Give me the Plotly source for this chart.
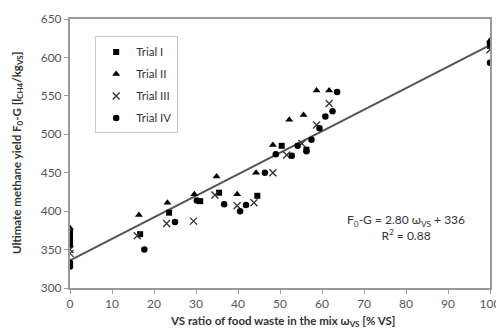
import plotly.graph_objects as go

# Trial I (squares)
t1_x = [0, 0, 0, 0, 16.7, 23.6, 31, 35.5, 44.6, 50.4, 56.3, 100]
t1_y = [372, 365, 360, 356, 370, 398, 413, 424, 420, 485, 480, 615]
# Trial II (triangles)
t2_x = [0, 16.4, 23.2, 29.6, 34.9, 39.8, 44.3, 48.3, 52.2, 55.6, 58.7, 61.7, 100]
t2_y = [378, 395, 411, 422, 445, 422, 450, 486, 519, 525, 557, 557, 622]
# Trial III (crosses)
t3_x = [0, 0, 16, 23, 29.4, 34.5, 39.8, 43.8, 48.3, 51.6, 55.2, 58.7, 61.7, 100]
t3_y = [350, 345, 368, 384, 387, 421, 407, 411, 450, 473, 488, 512, 540, 610]
# Trial IV (circles)
t4_x = [0, 0, 17.7, 25, 30.2, 36.7, 40.5, 41.9, 46.4, 49, 52.8, 54.2, 56.3, 57.5, 59.4, 60.8, 62.5, 63.6, 100, 100]
t4_y = [333, 328, 350, 386, 414, 409, 400, 408, 450, 474, 472, 485, 478, 493, 508, 523, 530, 555, 593, 618]

slope, intercept = 2.80, 336
fit_x = [0, 100]
fit_y = [intercept + slope * v for v in fit_x]

font = "Lato, 'Open Sans', sans-serif"
fig = go.Figure()
fig.add_trace(go.Scatter(x=fit_x, y=fit_y, mode="lines", line=dict(color="#555555", width=2),
                         showlegend=False, hoverinfo="skip"))
fig.add_trace(go.Scatter(x=t1_x, y=t1_y, mode="markers", name="Trial I", legendgroup="g1",
                         marker=dict(symbol="square", size=6, color="black")))
fig.add_trace(go.Scatter(x=t2_x, y=t2_y, mode="markers", name="Trial II", legendgroup="g2",
                         marker=dict(symbol="triangle-up", size=7, color="black")))
fig.add_trace(go.Scatter(x=t3_x, y=t3_y, mode="markers", name="Trial III", legendgroup="g3",
                         marker=dict(symbol="x-thin", size=7, color="black",
                                     line=dict(color="#333333", width=1.3))))
fig.add_trace(go.Scatter(x=t4_x, y=t4_y, mode="markers", name="Trial IV", legendgroup="g4",
                         marker=dict(symbol="circle", size=6.5, color="black")))

axis_common = dict(showline=True, linecolor="#9a9a9a", linewidth=2, mirror=True,
                   ticks="outside", tickcolor="#9a9a9a", ticklen=4, tickwidth=1,
                   showgrid=False, zeroline=False, automargin=False,
                   tickfont=dict(size=12, color="#555555", family=font))

fig.update_xaxes(range=[0, 100], dtick=10, **axis_common)
fig.update_yaxes(range=[300, 650], dtick=50, **axis_common)

title_font = dict(size=11.5, color="#333333", family=font)
fig.add_annotation(x=0.505, y=-0.126, xref="paper", yref="paper", showarrow=False,
                   xanchor="center", yanchor="middle", font=title_font,
                   text="<b>VS ratio of food waste in the mix ω<sub>VS</sub> [% VS]</b>")
fig.add_annotation(x=-0.1476, y=0.5, xref="paper", yref="paper", showarrow=False,
                   xanchor="left", yanchor="middle", textangle=-90, font=title_font,
                   text="<b>Ultimate methane yield F<sub>0</sub>-G [l<sub>CH4</sub>/kg<sub>VS</sub>]</b>")
fig.add_annotation(x=0.80, y=0.225, xref="paper", yref="paper", showarrow=False,
                   xanchor="center", yanchor="middle",
                   text="F<sub>0</sub>-G = 2.80 ω<sub>VS</sub> + 336<br>R<sup>2</sup> = 0.88",
                   align="center", font=dict(size=12, color="#333333", family=font))

# page body adds an 8px offset, so the figure is sized to fit the 504x333 window
fig.update_layout(width=496, height=325, margin=dict(l=62, r=14, t=11, b=45),
                  plot_bgcolor="white", paper_bgcolor="white",
                  legend=dict(x=0.06, y=0.935, xanchor="left", yanchor="top",
                              bordercolor="#c8c8c8", borderwidth=1, bgcolor="white",
                              font=dict(size=11.5, color="#333333", family=font),
                              itemwidth=30, tracegroupgap=3))
fig.write_html("out.html")
